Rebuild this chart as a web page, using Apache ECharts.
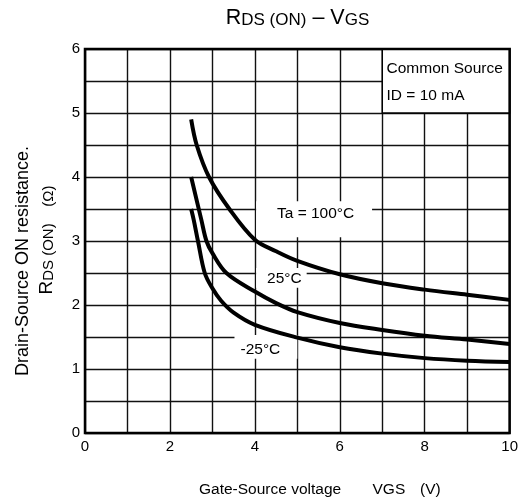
<!DOCTYPE html>
<html><head><meta charset="utf-8">
<script src="https://cdn.jsdelivr.net/npm/echarts@6/dist/echarts.min.js"></script>
<style>html,body{margin:0;padding:0;background:#fff}#c{width:521px;height:502px}</style>
</head><body><div id="c"></div>
<script>
// ---- data ----
const xTickLabels = [0, 2, 4, 6, 8, 10];
const yTickLabels = [0, 1, 2, 3, 4, 5, 6];
const vgs100 = [2.5, 2.63, 2.92, 3.4, 4, 4.5, 5, 6, 7, 8, 9, 10];
const rds100 = [4.9, 4.5, 4.0, 3.5, 3.02, 2.84, 2.69, 2.48, 2.34, 2.24, 2.16, 2.08];
const vgs25 = [2.5, 2.74, 2.86, 3, 3.33, 4, 4.5, 5, 6, 7, 8, 9, 10];
const rds25 = [4.0, 3.33, 3.0, 2.81, 2.5, 2.21, 2.03, 1.89, 1.72, 1.61, 1.52, 1.46, 1.39];
const vgsM25 = [2.5, 2.56, 2.66, 2.82, 3, 3.2, 3.5, 4, 5, 6, 7, 8, 9, 10];
const rdsM25 = [3.5, 3.33, 3.0, 2.5, 2.26, 2.07, 1.88, 1.69, 1.49, 1.34, 1.24, 1.17, 1.13, 1.11];
const curveNames = ['Ta = 100°C', '25°C', '-25°C'];
const conditionText = ['Common Source', 'ID = 10 mA'];
const conditionBox = {x: [7, 10], y: [5, 6]};
const labelBoxes = [
  {x: [4.03, 6.76], y: [3.06, 3.62]},
  {x: [4.03, 5.22], y: [2.27, 2.58]},
  {x: [3.52, 5.0], y: [1.16, 1.53]}
];

const FONT = '"Liberation Sans", Arial, sans-serif';
const zip = (a, b) => a.map((v, i) => [v, b[i]]);
const labelOffsets = [[1.5, -6], [3, 1], [-5.5, 3]];

const markAreaData = [
  [{name: conditionText.join('\n'), coord: [conditionBox.x[0], conditionBox.y[1]],
    itemStyle: {color: '#fff', borderColor: '#000', borderWidth: 1.5},
    label: {position: 'insideTopLeft', distance: 4, offset: [1, 3], lineHeight: 27, align: 'left'}},
   {coord: [conditionBox.x[1], conditionBox.y[0]]}]
].concat(labelBoxes.map((b, i) => [
  {name: curveNames[i], coord: [b.x[0], b.y[1]],
   itemStyle: {color: '#fff', borderWidth: 0},
   label: {position: 'inside', offset: labelOffsets[i]}},
  {coord: [b.x[1], b.y[0]]}
]));

const lineStyle = {color: '#000', width: 4};
const curve = (name, xs, ys) => ({type: 'line', name: name, data: zip(xs, ys), smooth: 0.35,
  showSymbol: false, lineStyle: lineStyle, z: 3, silent: true});

const chart = echarts.init(document.getElementById('c'), null, {renderer: 'canvas'});
const s0 = curve(curveNames[0], vgs100, rds100);
s0.markArea = {silent: true, data: markAreaData,
  label: {show: true, color: '#000', fontSize: 15.5, fontFamily: FONT},
  emphasis: {disabled: true}};
chart.setOption({
  animation: false,
  backgroundColor: '#fff',
  textStyle: {fontFamily: FONT},
  grid: {left: 85, right: 10, top: 49, bottom: 69, show: true, z: 10,
         borderColor: '#000', borderWidth: 2.5, backgroundColor: 'transparent'},
  xAxis: {
    type: 'value', min: 0, max: 10, interval: 1,
    axisLine: {show: false}, axisTick: {show: false},
    axisLabel: {color: '#000', fontSize: 15, fontFamily: FONT, margin: 6,
      formatter: v => xTickLabels.indexOf(v) >= 0 ? String(v) : ''},
    splitLine: {show: true, lineStyle: {color: '#111', width: 1.4}}
  },
  yAxis: {
    type: 'value', min: 0, max: 6, interval: 0.5,
    axisLine: {show: false}, axisTick: {show: false},
    axisLabel: {color: '#000', fontSize: 15, fontFamily: FONT, margin: 5,
      formatter: v => yTickLabels.indexOf(v) >= 0 ? String(v) : ''},
    splitLine: {show: true, lineStyle: {color: '#111', width: 1.4}}
  },
  series: [s0, curve(curveNames[1], vgs25, rds25), curve(curveNames[2], vgsM25, rdsM25)],
  graphic: [
    {type: 'text', x: 297.5, y: 29, z: 20, style: {
      text: '{b|R}{s|DS (ON)}{b| – V}{s|GS}', align: 'center', verticalAlign: 'bottom',
      fill: '#000', fontFamily: FONT,
      rich: {b: {fontSize: 21.5, lineHeight: 21.5, verticalAlign: 'bottom', fontFamily: FONT},
             s: {fontSize: 17, lineHeight: 17, verticalAlign: 'bottom', fontFamily: FONT}}}},
    {type: 'text', x: 23, y: 261, rotation: Math.PI / 2, z: 20, style: {
      text: 'Drain-Source ON resistance.', align: 'center', verticalAlign: 'middle',
      fill: '#000', fontSize: 18, fontFamily: FONT}},
    {type: 'text', x: 47, y: 240, rotation: Math.PI / 2, z: 20, style: {
      text: '{b|R}{s|DS (ON)}{s|    (Ω)}', align: 'center', verticalAlign: 'middle',
      fill: '#000', fontFamily: FONT,
      rich: {b: {fontSize: 19, lineHeight: 19, verticalAlign: 'bottom', fontFamily: FONT},
             s: {fontSize: 15, lineHeight: 15, verticalAlign: 'bottom', fontFamily: FONT}}}},
    {type: 'text', x: 199, y: 490, z: 20, style: {text: 'Gate-Source voltage', align: 'left', verticalAlign: 'middle', fill: '#000', fontSize: 15.5, fontFamily: FONT}},
    {type: 'text', x: 372.5, y: 490, z: 20, style: {text: 'VGS', align: 'left', verticalAlign: 'middle', fill: '#000', fontSize: 15.5, fontFamily: FONT}},
    {type: 'text', x: 420, y: 490, z: 20, style: {text: '(V)', align: 'left', verticalAlign: 'middle', fill: '#000', fontSize: 15.5, fontFamily: FONT}}
  ]
});
</script></body></html>
